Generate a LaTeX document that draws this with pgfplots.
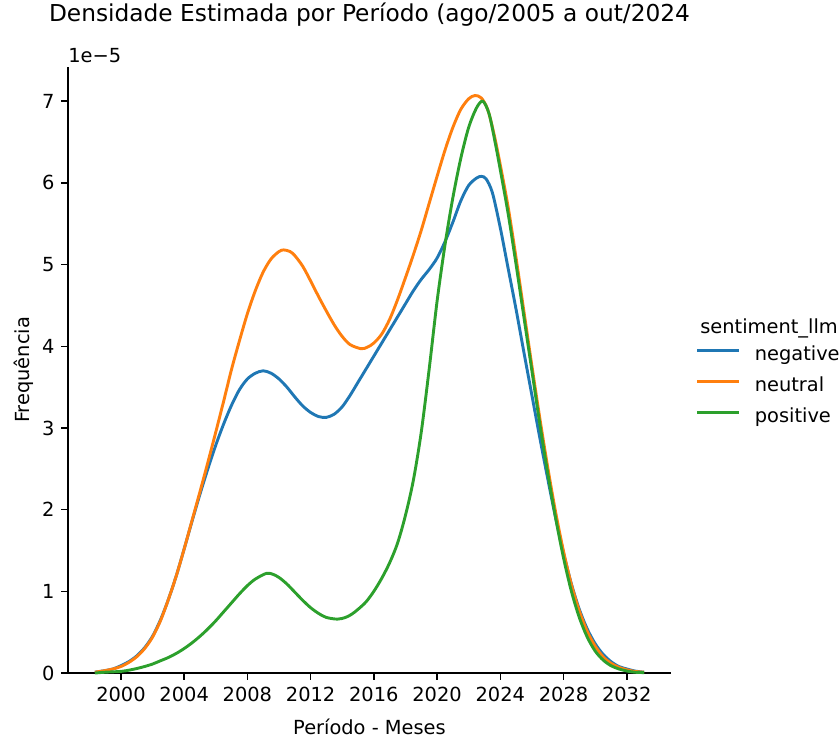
\documentclass[border=0pt]{standalone}
\usepackage{fontspec}
\setmainfont{DejaVu Sans}
\usepackage{pgfplots}
\pgfplotsset{compat=1.18}
\definecolor{cblue}{HTML}{1F77B4}
\definecolor{corange}{HTML}{FF7F0E}
\definecolor{cgreen}{HTML}{2CA02C}
\begin{document}
\begin{tikzpicture}
\useasboundingbox (-35.05pt,-32.99pt) rectangle (397.4pt,346.9pt);
\begin{axis}[
  scale only axis, width=310.8pt, height=312.4pt,
  at={(0pt,0pt)}, anchor=south west,
  xmin=1996.65, xmax=2034.8, ymin=0, ymax=7.42,
  axis lines*=left, axis line style={line width=0.8pt, -},
  tick align=outside, major tick length=3.5pt,
  tick style={line width=0.8pt, black},
  xtick={2000,2004,...,2032}, ytick={0,1,...,7},
  /pgf/number format/assume math mode=true,
  /pgf/number format/1000 sep={},
  ticklabel style={font=\fontsize{10}{12}\selectfont},
  title={Densidade Estimada por Período (ago/2005 a out/2024},
  title style={at={(axis description cs:0.5,1)}, anchor=base, yshift=17.5pt, inner sep=0pt, font=\fontsize{12}{14.4}\selectfont},
  xlabel={Período - Meses},
  xlabel style={at={(axis description cs:0.5,-0.1021)}, anchor=base, inner sep=0pt, font=\fontsize{10}{12}\selectfont},
  ylabel={Frequência},
  ylabel style={at={(axis description cs:-0.0637,0.5)}, anchor=base, inner sep=0pt, font=\fontsize{10}{12}\selectfont},
  legend style={at={(axis description cs:1.0415,0.5383)}, anchor=north west, draw=none, fill=none,
    inner sep=0pt, outer sep=0pt, row sep=6.3pt, column sep=7.2pt,
    font=\fontsize{10}{12}\selectfont,
    nodes={inner sep=0pt, text height=7.3pt, text depth=2.2pt}},
  legend cell align=left,
  legend image code/.code={\draw[#1, line width=1.5pt] (0pt,2.6pt) -- (21.6pt,2.6pt);},
  clip=false,
]
\addplot[cblue, line width=1.5pt, smooth] coordinates {
(1998.35,0.01) (1999.0,0.03) (1999.5,0.05) (2000.0,0.09) (2000.5,0.14) (2001.0,0.21) (2001.5,0.31) (2002.0,0.45) (2002.5,0.65) (2003.0,0.90) (2003.5,1.19) (2004.0,1.52) (2004.5,1.86) (2005.0,2.19) (2005.5,2.50) (2006.0,2.79) (2006.5,3.05) (2007.0,3.28) (2007.5,3.47) (2008.0,3.60) (2008.5,3.67) (2009.0,3.70) (2009.5,3.67) (2010.0,3.60) (2010.5,3.50) (2011.0,3.38) (2011.5,3.27) (2012.0,3.19) (2012.5,3.14) (2013.0,3.13) (2013.5,3.17) (2014.0,3.26) (2014.5,3.40) (2015.0,3.56) (2015.5,3.72) (2016.0,3.88) (2016.5,4.04) (2017.0,4.20) (2017.5,4.36) (2018.0,4.52) (2018.5,4.68) (2019.0,4.82) (2019.5,4.94) (2020.0,5.08) (2020.5,5.28) (2021.0,5.52) (2021.5,5.78) (2022.0,5.97) (2022.5,6.06) (2022.8,6.08) (2023.1,6.05) (2023.5,5.88) (2024.0,5.45) (2024.5,4.95) (2025.0,4.45) (2025.5,3.92) (2026.0,3.40) (2026.5,2.88) (2027.0,2.38) (2027.5,1.90) (2028.0,1.47) (2028.5,1.09) (2029.0,0.78) (2029.5,0.54) (2030.0,0.36) (2030.5,0.23) (2031.0,0.14) (2031.5,0.08) (2032.0,0.05) (2032.5,0.025) (2033.1,0.01)
};
\addlegendentry{negative}
\addplot[corange, line width=1.5pt, smooth] coordinates {
(1998.35,0.01) (1999.0,0.03) (1999.5,0.05) (2000.0,0.08) (2000.5,0.13) (2001.0,0.20) (2001.5,0.30) (2002.0,0.44) (2002.5,0.64) (2003.0,0.90) (2003.5,1.19) (2004.0,1.52) (2004.5,1.87) (2005.0,2.22) (2005.5,2.58) (2006.0,2.95) (2006.5,3.33) (2007.0,3.72) (2007.5,4.07) (2008.0,4.40) (2008.5,4.68) (2009.0,4.91) (2009.5,5.07) (2010.0,5.16) (2010.3,5.18) (2010.7,5.16) (2011.0,5.11) (2011.5,4.98) (2012.0,4.80) (2012.5,4.61) (2013.0,4.43) (2013.5,4.26) (2014.0,4.12) (2014.5,4.02) (2015.2,3.97) (2015.6,3.99) (2016.0,4.04) (2016.5,4.15) (2017.0,4.33) (2017.5,4.57) (2018.0,4.84) (2018.5,5.12) (2019.0,5.42) (2019.5,5.75) (2020.0,6.08) (2020.5,6.40) (2021.0,6.68) (2021.5,6.90) (2022.0,7.03) (2022.4,7.07) (2022.8,7.04) (2023.2,6.90) (2023.6,6.60) (2024.0,6.22) (2024.5,5.70) (2025.0,5.08) (2025.5,4.42) (2026.0,3.76) (2026.5,3.12) (2027.0,2.52) (2027.5,1.97) (2028.0,1.49) (2028.5,1.08) (2029.0,0.76) (2029.5,0.51) (2030.0,0.33) (2030.5,0.20) (2031.0,0.12) (2031.5,0.07) (2032.0,0.04) (2032.5,0.02) (2033.1,0.01)
};
\addlegendentry{neutral}
\addplot[cgreen, line width=1.5pt, smooth] coordinates {
(1998.35,0.00) (1999.0,0.01) (2000.0,0.02) (2000.5,0.035) (2001.0,0.055) (2001.5,0.08) (2002.0,0.11) (2002.5,0.15) (2003.0,0.19) (2003.5,0.24) (2004.0,0.30) (2004.5,0.37) (2005.0,0.45) (2005.5,0.54) (2006.0,0.64) (2006.5,0.75) (2007.0,0.86) (2007.5,0.97) (2008.0,1.07) (2008.5,1.15) (2009.2,1.22) (2009.6,1.21) (2010.0,1.17) (2010.5,1.09) (2011.0,0.99) (2011.5,0.89) (2012.0,0.80) (2012.5,0.73) (2013.0,0.68) (2013.7,0.66) (2014.2,0.68) (2014.6,0.72) (2015.0,0.78) (2015.5,0.87) (2016.0,1.00) (2016.5,1.16) (2017.0,1.35) (2017.5,1.59) (2018.0,1.93) (2018.5,2.36) (2019.0,2.95) (2019.5,3.72) (2020.0,4.55) (2020.5,5.24) (2021.0,5.82) (2021.5,6.30) (2022.0,6.68) (2022.5,6.92) (2022.9,7.00) (2023.3,6.84) (2023.7,6.47) (2024.0,6.16) (2024.5,5.62) (2025.0,5.00) (2025.5,4.35) (2026.0,3.70) (2026.5,3.05) (2027.0,2.45) (2027.5,1.90) (2028.0,1.41) (2028.5,1.00) (2029.0,0.68) (2029.5,0.44) (2030.0,0.27) (2030.5,0.16) (2031.0,0.09) (2031.5,0.05) (2032.0,0.025) (2032.5,0.01) (2033.1,0.005)
};
\addlegendentry{positive}
\node[anchor=base west, inner sep=0pt, font=\fontsize{10}{12}\selectfont] at (axis description cs:0,1) [yshift=2.5pt] {1e−5};
\node[anchor=base west, inner sep=0pt, font=\fontsize{10}{12}\selectfont] at (axis description cs:1.048,0.5594) {sentiment\_llm};
\end{axis}
\end{tikzpicture}
\end{document}
